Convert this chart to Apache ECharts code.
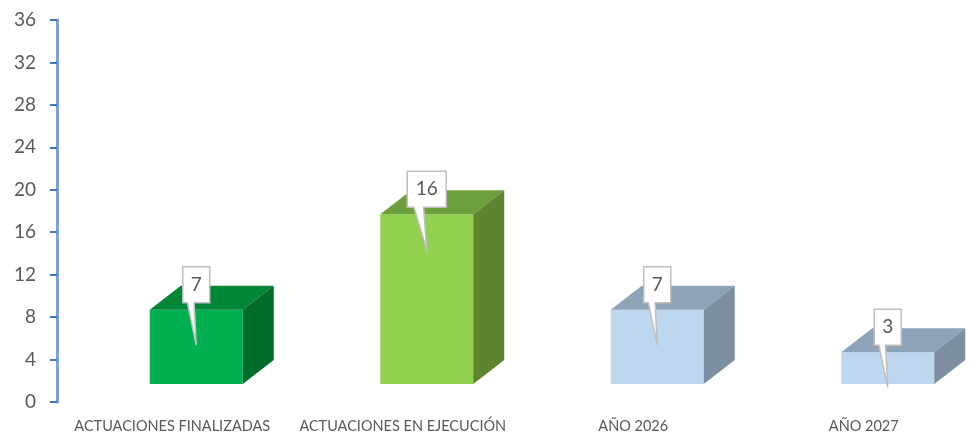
<!DOCTYPE html>
<html>
<head>
<meta charset="utf-8">
<style>
  html, body { margin: 0; padding: 0; background: #fff; overflow: hidden; }
  #chart { width: 973px; height: 434px; }
</style>
<script src="https://cdn.jsdelivr.net/npm/echarts@6/dist/echarts.min.js"></script>
</head>
<body>
<div id="chart"></div>
<script>
const categories = ['ACTUACIONES FINALIZADAS', 'ACTUACIONES EN EJECUCIÓN', 'AÑO 2026', 'AÑO 2027'];
const values = [7, 16, 7, 3];
const yMax = 36;
const yStep = 4;
// the 3d floor sits a bit above zero, bars start from here
const floorValue = 1.7;

const frontColors = ['#00b050', '#92d050', '#bdd7ee', '#bdd7ee'];
const topColors = ['#008636', '#6f9e3c', '#8fa3b8', '#8fa3b8'];
const sideColors = ['#006c2c', '#5f8431', '#7c8ea1', '#7c8ea1'];

function renderBox(params, api) {
  const i = api.value(0);
  const v = api.value(1);
  const top = api.coord([i, v + floorValue]);
  const bottom = api.coord([i, floorValue]);
  // perspective pushes the box to the right of the category centre
  const cx = top[0] + 24;
  const half = 46.5;
  const dx = 31, dy = 24;
  const l = cx - half, r = cx + half, t = top[1], b = bottom[1];

  const boxW = String(v).length > 1 ? 39 : 27;
  const boxTop = t - 43, boxBottom = t - 7;
  const tipY = t + 35.5;
  const boxL = cx - boxW / 2;

  return {
    type: 'group',
    children: [
      { type: 'polygon', shape: { points: [[l, t], [r, t], [r, b], [l, b]] }, style: { fill: frontColors[i] } },
      { type: 'polygon', shape: { points: [[l, t], [l + dx, t - dy], [r + dx, t - dy], [r, t]] }, style: { fill: topColors[i] } },
      { type: 'polygon', shape: { points: [[r, t], [r + dx, t - dy], [r + dx, b - dy], [r, b]] }, style: { fill: sideColors[i] } },
      {
        type: 'polygon',
        shape: {
          points: [
            [boxL, boxTop], [boxL + boxW, boxTop], [boxL + boxW, boxBottom],
            [boxL + boxW * 0.42, boxBottom], [cx, tipY], [boxL + boxW * 0.17, boxBottom], [boxL, boxBottom]
          ]
        },
        style: { fill: '#fff', stroke: '#bfbfbf', lineWidth: 1.5 }
      },
      {
        type: 'text',
        style: {
          x: cx, y: (boxTop + boxBottom) / 2,
          text: String(v),
          fill: '#595959',
          font: '19px Lato',
          align: 'center',
          verticalAlign: 'middle'
        }
      }
    ]
  };
}

const chart = echarts.init(document.getElementById('chart'));
chart.setOption({
  animation: false,
  backgroundColor: '#fff',
  grid: { left: 57, width: 922, top: 20, height: 382, outerBoundsMode: 'none' },
  xAxis: {
    type: 'category',
    data: categories,
    axisLine: { show: false },
    axisTick: { show: false },
    axisLabel: { color: '#595959', fontFamily: 'Lato', fontSize: 14.5, margin: 17, interval: 0 }
  },
  yAxis: {
    type: 'value',
    min: 0,
    max: yMax,
    interval: yStep,
    splitLine: { show: false },
    axisLine: { show: true, lineStyle: { color: '#7f9fdc', width: 3 } },
    axisTick: { show: true, length: 7, lineStyle: { color: '#4472c4', width: 2 } },
    axisLabel: { color: '#595959', fontFamily: 'Lato', fontSize: 19, margin: 21 }
  },
  series: [{
    type: 'custom',
    clip: false,
    renderItem: renderBox,
    encode: { x: 0, y: 1 },
    data: values.map((v, i) => [i, v])
  }]
});
</script>
</body>
</html>
